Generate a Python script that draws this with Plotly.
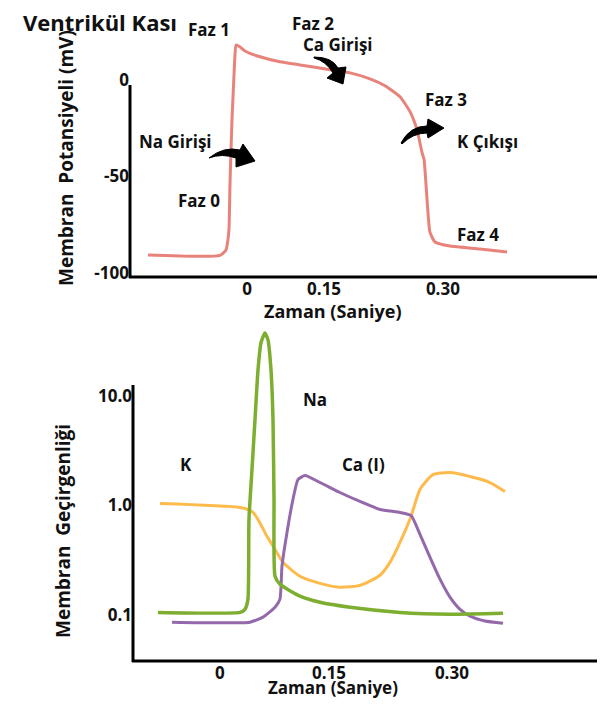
import plotly.graph_objects as go

W, H = 607, 707
OFF = 8  # default page margin around the figure
FW, FH = W - 2 * OFF, H - 2 * OFF

# ---------------- data: action potential (top) ----------------
ap_time = [-0.1516, -0.0413, -0.0322, -0.0291, -0.0276, -0.0260, -0.0230, -0.0199, -0.0184,
           -0.0168, -0.0107, -0.0031, 0.0199, 0.0505, 0.0812, 0.1271, 0.1577, 0.1884,
           0.2113, 0.2343, 0.2496, 0.2603, 0.2680, 0.2711, 0.2757, 0.2802, 0.2879,
           0.3109, 0.3568, 0.3982]
ap_mv = [-90.7, -90.9, -88.1, -82.5, -77.3, -53.1, -20.6, 2.6, 12.9,
         18.0, 17.0, 14.9, 11.9, 9.3, 7.7, 5.2, 3.6, 0.5,
         -3.1, -8.8, -16.5, -25.8, -37.6, -41.2, -61.9, -78.9, -84.0,
         -86.1, -87.6, -89.2]

top_xtick_vals = [0, 0.118, 0.30]
top_xtick_text = ["0", "0.15", "0.30"]
top_ytick_vals = [0, -50, -100]
top_ytick_text = ["0", "-50", "-100"]

# ---------------- data: permeability (bottom) ----------------
na_time = [-0.0802, 0.0259, 0.0323, 0.0362, 0.0375, 0.0414, 0.0453, 0.0492, 0.0530, 0.0582,
           0.0621, 0.0660, 0.0686, 0.0699, 0.0712, 0.0776, 0.1035, 0.1294, 0.1682,
           0.2329, 0.2975, 0.3661]
na_perm = [0.106, 0.106, 0.113, 0.140, 0.746, 2.12, 6.05, 17.2, 30.3, 37.4,
           32.3, 17.2, 6.05, 1.13, 0.226, 0.191, 0.149, 0.131, 0.118,
           0.106, 0.102, 0.104]

k_time = [-0.0776, 0.0259, 0.0414, 0.0492, 0.0608, 0.0712, 0.0815, 0.1035, 0.1294, 0.1552,
          0.1811, 0.2070, 0.2199, 0.2329, 0.2471, 0.2587, 0.2755, 0.2975, 0.3234,
          0.3493, 0.3687]
k_perm = [1.043, 0.959, 0.882, 0.746, 0.523, 0.398, 0.303, 0.226, 0.195, 0.180,
          0.187, 0.231, 0.303, 0.461, 0.794, 1.398, 1.913, 1.995, 1.835,
          1.619, 1.340]

ca_time = [-0.0621, 0.0388, 0.0556, 0.0712, 0.0776, 0.0802, 0.0867, 0.0944, 0.1009, 0.1100,
           0.1294, 0.1552, 0.1811, 0.2070, 0.2329, 0.2471, 0.2587, 0.2717, 0.2846,
           0.2975, 0.3105, 0.3234, 0.3428, 0.3661]
ca_perm = [0.0863, 0.0863, 0.0959, 0.118, 0.140, 0.279, 0.568, 1.134, 1.723, 1.874,
           1.619, 1.313, 1.087, 0.920, 0.864, 0.811, 0.545, 0.337, 0.213,
           0.146, 0.113, 0.098, 0.0886, 0.0845]

bot_xtick_vals = [0, 0.141, 0.30]
bot_xtick_text = ["0", "0.15", "0.30"]
bot_ytick_vals = [10, 1, 0.1]
bot_ytick_text = ["10.0", "1.0", "0.1"]

FONT = "Open Sans"
TXT = "#111111"


def px(x):
    return (x - OFF) / FW


def py(y):
    return 1 - (y - OFF) / FH


fig = go.Figure()
fig.add_trace(go.Scatter(x=ap_time, y=ap_mv, mode="lines", xaxis="x", yaxis="y",
                         line=dict(color="#E8837B", width=3, shape="spline", smoothing=0.5),
                         hoverinfo="skip"))
fig.add_trace(go.Scatter(x=k_time, y=k_perm, mode="lines", xaxis="x2", yaxis="y2",
                         line=dict(color="#FDBB4B", width=3, shape="spline", smoothing=0.6),
                         hoverinfo="skip"))
fig.add_trace(go.Scatter(x=ca_time, y=ca_perm, mode="lines", xaxis="x2", yaxis="y2",
                         line=dict(color="#9469AC", width=3, shape="spline", smoothing=0.5),
                         hoverinfo="skip"))
fig.add_trace(go.Scatter(x=na_time, y=na_perm, mode="lines", xaxis="x2", yaxis="y2",
                         line=dict(color="#7DAE2F", width=3.5, shape="spline", smoothing=0.5),
                         hoverinfo="skip"))

tickfont = dict(family=FONT, size=17, color=TXT, weight="bold")
axis_common = dict(showgrid=False, zeroline=False, showline=False, ticks="",
                   tickfont=tickfont, automargin=False, fixedrange=True)

fig.update_layout(
    width=FW, height=FH,
    margin=dict(l=0, r=0, t=0, b=0),
    paper_bgcolor="white", plot_bgcolor="white",
    showlegend=False,
    xaxis=dict(domain=[px(130), px(597)], range=[-0.1792, 0.5360],
               tickmode="array", tickvals=top_xtick_vals, ticktext=top_xtick_text,
               anchor="y", **axis_common),
    yaxis=dict(domain=[py(277), py(40)], range=[-102.1, 20.6],
               tickmode="array", tickvals=top_ytick_vals, ticktext=top_ytick_text,
               anchor="x", **axis_common),
    xaxis2=dict(domain=[px(133), px(597)], range=[-0.1125, 0.4877],
                tickmode="array", tickvals=bot_xtick_vals, ticktext=bot_xtick_text,
                anchor="y2", **axis_common),
    yaxis2=dict(domain=[py(661), py(328)], type="log", range=[-1.418, 1.618],
                tickmode="array", tickvals=bot_ytick_vals, ticktext=bot_ytick_text,
                anchor="x2", **axis_common),
)

# axis lines (partial, as in the drawing)
axis_lines = [
    (130, 85, 130, 278), (129, 277, 597, 277),
    (133, 385, 133, 662), (132, 661, 597, 661),
]
for x0, y0, x1, y1 in axis_lines:
    fig.add_shape(type="line", xref="paper", yref="paper",
                  x0=px(x0), y0=py(y0), x1=px(x1), y1=py(y1),
                  line=dict(color="black", width=3))


def path(cmds):
    out = []
    for c in cmds:
        if isinstance(c, str):
            out.append(c)
        else:
            out.append(f"{px(c[0]):.5f},{py(c[1]):.5f}")
    return " ".join(out)


arrows = [
    ["M", (209, 158), "Q", (224, 146), (240, 150), "L", (243, 144), "L", (255, 161),
     "L", (236, 167), "L", (236, 158), "Q", (222, 153), (209, 158), "Z"],
    ["M", (314, 57), "Q", (332, 57), (338, 68), "L", (346, 67), "L", (343, 84),
     "L", (327, 78), "L", (333, 73), "Q", (326, 61), (314, 58), "Z"],
    ["M", (401, 143), "Q", (410, 126), (427, 126), "L", (428, 119), "L", (444, 128),
     "L", (428, 138), "L", (427, 133), "Q", (413, 133), (402, 144), "Z"],
]
for a in arrows:
    fig.add_shape(type="path", xref="paper", yref="paper", path=path(a),
                  fillcolor="black", line=dict(color="black", width=1))


def label(text, x, y, size=17, angle=0):
    fig.add_annotation(text=text, x=px(x), y=py(y), xref="paper", yref="paper",
                       showarrow=False, textangle=angle, xanchor="center", yanchor="middle",
                       font=dict(family=FONT, size=size, color=TXT, weight="bold"))


label("Ventrikül Kası", 100, 22, size=22)
label("Faz 1", 209, 29)
label("Faz 2", 313, 23)
label("Ca Girişi", 338, 45)
label("Faz 3", 446, 100)
label("K Çıkışı", 487, 141)
label("Na Girişi", 175, 141)
label("Faz 0", 199, 200)
label("Faz 4", 478, 234)
label("Zaman (Saniye)", 333, 311, size=18)
label("Membran\u00a0 Potansiyeli (mV)", 66, 158, size=19, angle=-90)

label("Na", 315, 399)
label("K", 186, 465)
label("Ca (I)", 363, 464)
label("Zaman (Saniye)", 333, 687, size=17)
label("Membran\u00a0 Geçirgenliği", 63, 531, size=19, angle=-90)

fig.write_html("out.html")
